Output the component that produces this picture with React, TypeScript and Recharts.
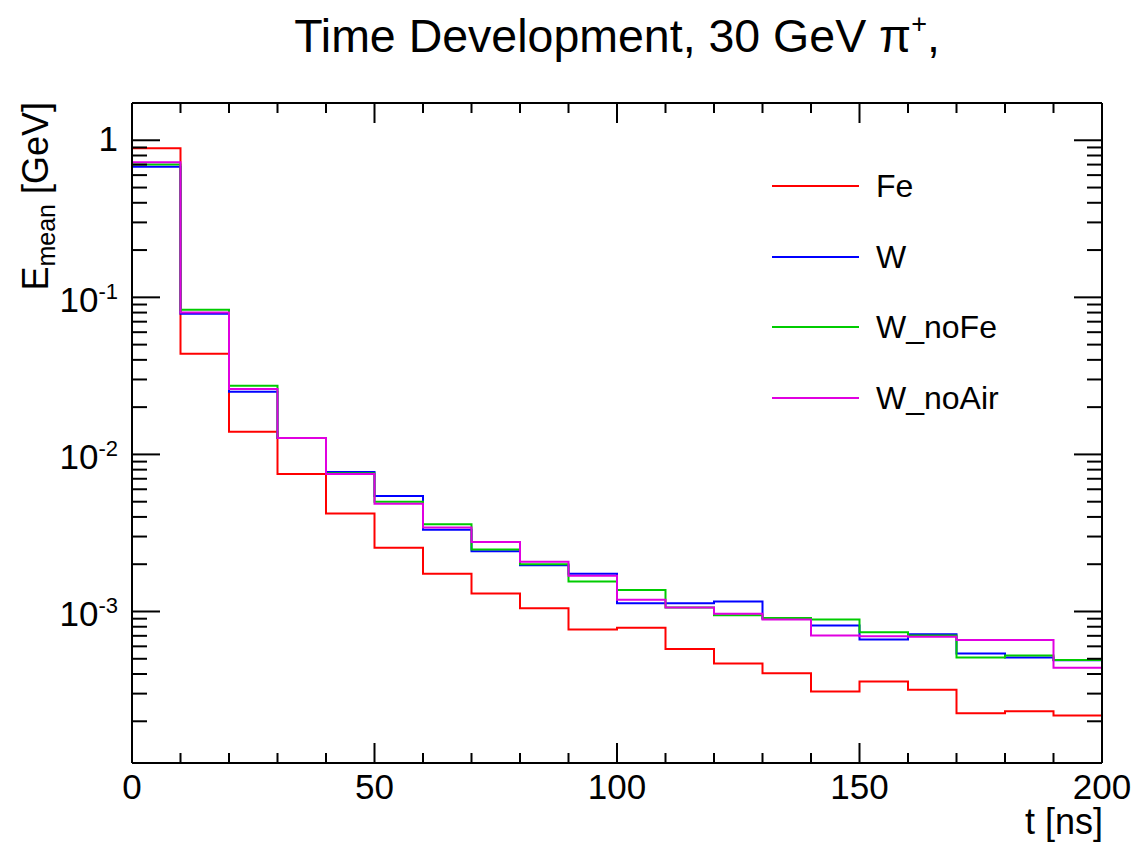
import { Legend, Line, LineChart, XAxis, YAxis } from "recharts"

// bin edges in ns (last edge repeats the final bin so the step reaches 200)
const tEdges = [0, 10, 20, 30, 40, 50, 60, 70, 80, 90, 100, 110, 120, 130, 140, 150, 160, 170, 180, 190, 200]

const fe = [0.889, 0.0437, 0.01394, 0.0075, 0.0042, 0.00255, 0.00174, 0.0013, 0.00105, 0.000767, 0.000787, 0.000578, 0.000467, 0.000404, 0.00031, 0.000358, 0.000317, 0.000225, 0.000232, 0.000218]
const w = [0.679, 0.0785, 0.0251, 0.0127, 0.00773, 0.00544, 0.00332, 0.00242, 0.00197, 0.00174, 0.00113, 0.00113, 0.001156, 0.0009, 0.000813, 0.000663, 0.000716, 0.00054, 0.000509, 0.00049]
const wNoFe = [0.7, 0.0833, 0.0274, 0.0127, 0.0076, 0.005, 0.00359, 0.00248, 0.002, 0.00155, 0.00137, 0.00106, 0.000946, 0.00091, 0.000888, 0.000738, 0.000703, 0.000509, 0.000525, 0.000492]
const wNoAir = [0.724, 0.08, 0.0261, 0.0127, 0.0075, 0.00486, 0.00342, 0.00277, 0.00207, 0.00169, 0.00119, 0.00106, 0.000966, 0.000888, 0.000703, 0.000695, 0.00069, 0.000659, 0.000659, 0.000438]

const seriesNames = ["Fe", "W", "W_noFe", "W_noAir"]
const seriesColors = ["#ff0000", "#0000ff", "#00cc00", "#e000e0"]
const seriesValues = [fe, w, wNoFe, wNoAir]

const xMajor = [0, 50, 100, 150, 200]
const xMinor = [10, 20, 30, 40, 60, 70, 80, 90, 110, 120, 130, 140, 160, 170, 180, 190]
const yMajor = [1e-3, 1e-2, 1e-1, 1]
const yMajorBase = ["10", "10", "10", "1"]
const yMajorExp = ["-3", "-2", "-1", ""]
const yDecades = [1e-4, 1e-3, 1e-2, 1e-1]
const yMinorSteps = [2, 3, 4, 5, 6, 7, 8, 9]
const yMinor = yDecades.flatMap((d) => yMinorSteps.map((k) => k * d))
const yDomain = [1.085e-4, 1.727]

const FONT = "'Liberation Sans', Arial, Helvetica, sans-serif"

const data = tEdges.map((t, i) => {
  const row: Record<string, number> = { t }
  seriesNames.forEach((name, s) => {
    const vals = seriesValues[s]
    row[name] = vals[Math.min(i, vals.length - 1)]
  })
  return row
})

function majorIndex(v: number) {
  return yMajor.findIndex((m) => Math.abs(m - v) / m < 1e-6)
}

function BottomTick({ x, y, payload }: any) {
  const major = xMajor.includes(payload.value)
  return (
    <g>
      <line x1={x} x2={x} y1={y} y2={y - (major ? 20 : 10)} stroke="#000" strokeWidth={2} />
      {major && (
        <text x={x} y={y + 36} textAnchor="middle" fontSize={35} fontFamily={FONT} fill="#000">
          {payload.value}
        </text>
      )}
    </g>
  )
}

function TopTick({ x, y, payload }: any) {
  const major = xMajor.includes(payload.value)
  return <line x1={x} x2={x} y1={y} y2={y + (major ? 20 : 10)} stroke="#000" strokeWidth={2} />
}

function LeftTick({ x, y, payload }: any) {
  const idx = majorIndex(payload.value)
  const major = idx >= 0
  return (
    <g>
      <line x1={x} x2={x + (major ? 28 : 15)} y1={y} y2={y} stroke="#000" strokeWidth={2} />
      {major && (
        <text
          x={x - 14}
          y={y + (yMajorExp[idx] ? 15 : 11)}
          textAnchor="end"
          fontSize={35}
          fontFamily={FONT}
          fill="#000"
        >
          {yMajorBase[idx]}
          {yMajorExp[idx] && (
            <tspan fontSize={22} dy={-13}>
              {yMajorExp[idx]}
            </tspan>
          )}
        </text>
      )}
    </g>
  )
}

function RightTick({ x, y, payload }: any) {
  const major = majorIndex(payload.value) >= 0
  return <line x1={x} x2={x - (major ? 28 : 15)} y1={y} y2={y} stroke="#000" strokeWidth={2} />
}

function LegendBox() {
  return (
    <div style={{ fontFamily: FONT }}>
      {seriesNames.map((name, s) => (
        <div key={name} style={{ display: "flex", alignItems: "center", height: 70.7 }}>
          <svg width={87} height={4} style={{ display: "block" }}>
            <line x1={0} x2={87} y1={2} y2={2} stroke={seriesColors[s]} strokeWidth={2} />
          </svg>
          <span style={{ marginLeft: 17, fontSize: 32, color: "#000", lineHeight: 1 }}>{name}</span>
        </div>
      ))}
    </div>
  )
}

const axisLine = { stroke: "#000", strokeWidth: 2 }

export default function App() {
  return (
    <div style={{ position: "absolute", left: 0, top: 0, width: 1135, height: 847, background: "#fff" }}>
      <LineChart width={1135} height={847} data={data} margin={{ top: 102, right: 32, bottom: 83, left: 131 }}>
        <XAxis
          dataKey="t"
          type="number"
          domain={[0, 200]}
          ticks={[...xMajor, ...xMinor]}
          interval={0}
          height={1}
          tickSize={0}
          tickMargin={0}
          tickLine={false}
          axisLine={axisLine}
          tick={BottomTick}
        />
        <XAxis
          xAxisId="top"
          orientation="top"
          dataKey="t"
          type="number"
          domain={[0, 200]}
          ticks={[...xMajor, ...xMinor]}
          interval={0}
          height={1}
          tickSize={0}
          tickMargin={0}
          tickLine={false}
          axisLine={axisLine}
          tick={TopTick}
        />
        <YAxis
          type="number"
          scale="log"
          domain={yDomain}
          allowDataOverflow
          ticks={[...yMajor, ...yMinor]}
          interval={0}
          width={1}
          tickSize={0}
          tickMargin={0}
          tickLine={false}
          axisLine={axisLine}
          tick={LeftTick}
        />
        <YAxis
          yAxisId="right"
          orientation="right"
          type="number"
          scale="log"
          domain={yDomain}
          allowDataOverflow
          ticks={[...yMajor, ...yMinor]}
          interval={0}
          width={1}
          tickSize={0}
          tickMargin={0}
          tickLine={false}
          axisLine={axisLine}
          tick={RightTick}
        />
        {seriesNames.map((name, s) => (
          <Line
            key={name}
            dataKey={name}
            name={name}
            type="stepAfter"
            stroke={seriesColors[s]}
            strokeWidth={2}
            dot={false}
            activeDot={false}
            isAnimationActive={false}
          />
        ))}
        <Legend
          layout="vertical"
          align="center"
          verticalAlign="middle"
          content={LegendBox}
          wrapperStyle={{ left: 772, top: 150.6, width: 300, height: 290 }}
        />
      </LineChart>
      <svg
        width={1135}
        height={847}
        style={{ position: "absolute", left: 0, top: 0, pointerEvents: "none" }}
        fontFamily={FONT}
      >
        <text x={617} y={52} textAnchor="middle" fontSize={46.5} fill="#000">
          Time Development, 30 GeV π
          <tspan fontSize={27} dy={-19}>+</tspan>
          <tspan dy={19}>,</tspan>
        </text>
        <text transform="rotate(-90)" x={-102} y={48} textAnchor="end" fontSize={36} fill="#000">
          E
          <tspan fontSize={25} dy={7}>mean</tspan>
          <tspan dy={-7}> [GeV]</tspan>
        </text>
        <text x={1103} y={834} textAnchor="end" fontSize={36} fill="#000">
          t [ns]
        </text>
      </svg>
    </div>
  )
}
